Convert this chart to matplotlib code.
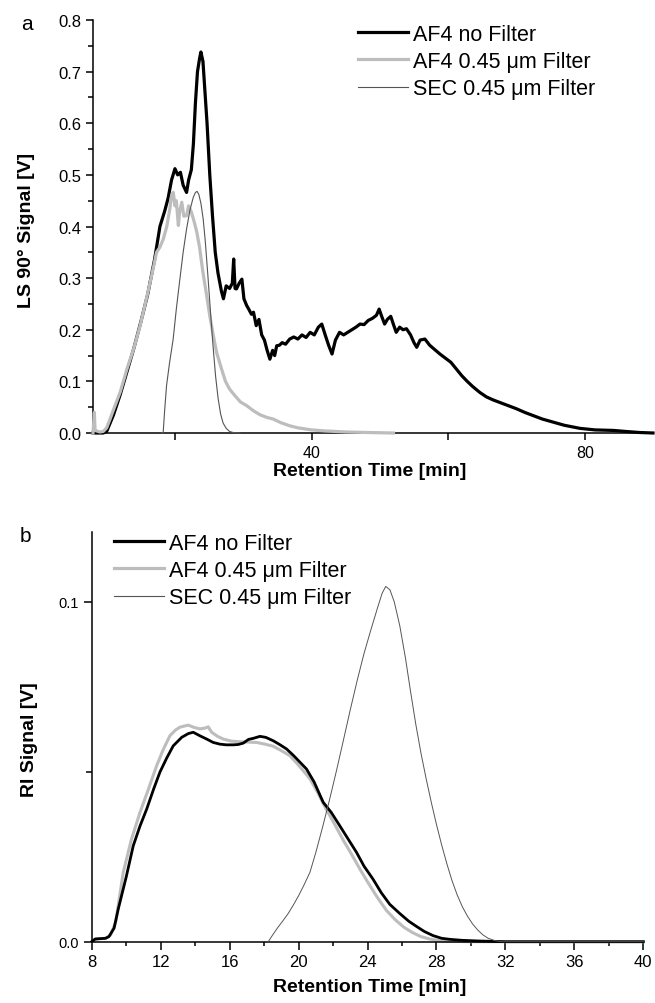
import numpy as np
import matplotlib
matplotlib.use("Agg")
import matplotlib.pyplot as plt
from matplotlib.lines import Line2D
from matplotlib.ticker import MultipleLocator, FixedLocator

plt.rcParams['font.family'] = ['Liberation Sans', 'DejaVu Sans']

# (a) LS 90° signal, retention time [min], signal [V]
ls_af4_nofilter = [
    (8, 0), (9.5, 0), (10.0, 0.003), (11, 0.035), (12, 0.075), (13, 0.12), (14, 0.165),
    (15, 0.215), (16, 0.268), (17, 0.335), (17.8, 0.40), (18.5, 0.43), (19.0, 0.455),
    (19.5, 0.49), (20.0, 0.512), (20.4, 0.50), (20.8, 0.505), (21.2, 0.48), (21.7, 0.466),
    (22.0, 0.49), (22.4, 0.51), (22.7, 0.56), (23.0, 0.64), (23.3, 0.70), (23.6, 0.725),
    (23.8, 0.738), (24.1, 0.72), (24.4, 0.66), (24.7, 0.60), (25.1, 0.50), (25.5, 0.42),
    (25.9, 0.35), (26.3, 0.31), (26.8, 0.275), (27.1, 0.26), (27.5, 0.285), (28.0, 0.28),
    (28.4, 0.29), (28.6, 0.337), (28.8, 0.28), (29.0, 0.279), (29.4, 0.29), (29.8, 0.298),
    (30.1, 0.26), (30.5, 0.247), (30.8, 0.24), (31.2, 0.23), (31.5, 0.234), (31.9, 0.208),
    (32.3, 0.22), (32.7, 0.19), (33.1, 0.18), (33.5, 0.16), (33.9, 0.143), (34.3, 0.16),
    (34.6, 0.15), (34.9, 0.169), (35.3, 0.17), (35.7, 0.175), (36.2, 0.172), (36.8, 0.182),
    (37.4, 0.186), (38.0, 0.182), (38.6, 0.19), (39.2, 0.185), (39.8, 0.195), (40.4, 0.19),
    (41.0, 0.205), (41.5, 0.211), (42.0, 0.19), (42.5, 0.17), (43.0, 0.153), (43.5, 0.18),
    (44.1, 0.195), (44.7, 0.19), (45.3, 0.195), (45.9, 0.2), (46.5, 0.205), (47.1, 0.211),
    (47.7, 0.21), (48.3, 0.218), (48.9, 0.222), (49.5, 0.228), (49.9, 0.24), (50.3, 0.225),
    (50.7, 0.211), (51.1, 0.22), (51.6, 0.226), (52.0, 0.21), (52.4, 0.195), (52.9, 0.205),
    (53.4, 0.2), (53.9, 0.202), (54.5, 0.19), (55.0, 0.175), (55.4, 0.166), (55.9, 0.18),
    (56.6, 0.182), (57.3, 0.17), (58.0, 0.162), (58.8, 0.153), (59.6, 0.145), (60.4, 0.137),
    (61.2, 0.124), (62.0, 0.111), (62.8, 0.1), (63.6, 0.09), (64.6, 0.079), (65.6, 0.07),
    (66.6, 0.064), (67.6, 0.059), (68.8, 0.053), (70.0, 0.047), (71.2, 0.04), (72.4, 0.034),
    (73.8, 0.027), (75.4, 0.021), (77.0, 0.015), (79.3, 0.009), (81.5, 0.006), (84.2, 0.005),
    (86.0, 0.003), (88.0, 0.001), (90, 0),
]
ls_af4_filter = [
    (8.0, 0.0), (8.2, 0.04), (8.3, 0.005), (9.0, 0.002), (9.5, 0.003), (10.0, 0.01),
    (10.5, 0.027), (11.0, 0.045), (12.0, 0.08), (12.4, 0.098), (13.0, 0.125), (14.0, 0.165),
    (14.9, 0.208), (16.0, 0.27), (17.0, 0.33), (17.3, 0.35), (17.8, 0.36), (18.3, 0.376),
    (18.8, 0.40), (19.25, 0.434), (19.5, 0.46), (19.75, 0.466), (20.0, 0.44), (20.2, 0.45),
    (20.5, 0.402), (20.7, 0.43), (21.0, 0.447), (21.3, 0.42), (21.7, 0.421), (22.0, 0.44),
    (22.4, 0.428), (22.8, 0.41), (23.2, 0.389), (23.6, 0.36), (24.1, 0.311), (24.6, 0.27),
    (25.1, 0.227), (25.6, 0.19), (26.1, 0.156), (26.8, 0.125), (27.4, 0.1), (28.0, 0.085),
    (28.8, 0.072), (29.6, 0.06), (30.5, 0.053), (31.5, 0.043), (32.5, 0.035), (33.5, 0.03),
    (34.4, 0.027), (35.5, 0.02), (36.8, 0.014), (38.0, 0.01), (40.0, 0.006), (42.0, 0.004),
    (45.0, 0.002), (48.0, 0.001), (52.0, 0),
]
ls_sec_filter = [
    (18.0, 0), (18.27, 0.0), (18.5, 0.045), (18.77, 0.092), (19.2, 0.135), (19.74, 0.182),
    (20.2, 0.24), (20.72, 0.298), (21.2, 0.35), (21.7, 0.395), (22.2, 0.432), (22.67, 0.456),
    (23.0, 0.466), (23.25, 0.468), (23.5, 0.462), (23.8, 0.445), (24.13, 0.415), (24.45, 0.37),
    (24.86, 0.298), (25.2, 0.235), (25.6, 0.165), (25.95, 0.11), (26.33, 0.066), (26.7, 0.036),
    (27.06, 0.019), (27.5, 0.009), (28.0, 0.003), (28.5, 0.001), (29.5, 0),
]

# (b) RI signal
ri_af4_nofilter = [
    (8.0, 0.0), (8.2, 0.0008), (8.8, 0.001), (9.0, 0.0015), (9.3, 0.004), (9.54, 0.0096),
    (10.0, 0.019), (10.41, 0.0282), (10.8, 0.034), (11.19, 0.039), (11.6, 0.045),
    (11.96, 0.0499), (12.35, 0.054), (12.73, 0.0576), (13.22, 0.0601), (13.6, 0.0612),
    (13.89, 0.0616), (14.3, 0.0605), (14.67, 0.0596), (15.05, 0.0586), (15.44, 0.0581),
    (15.8, 0.0579), (16.21, 0.0579), (16.5, 0.058), (16.79, 0.0584), (17.1, 0.0595),
    (17.37, 0.0598), (17.76, 0.0604), (18.1, 0.0601), (18.53, 0.0591), (18.9, 0.058),
    (19.3, 0.0567), (19.7, 0.0548), (20.08, 0.0528), (20.46, 0.0508), (20.9, 0.047),
    (21.43, 0.041), (21.9, 0.038), (22.39, 0.0341), (22.9, 0.030), (23.36, 0.0263),
    (23.8, 0.0222), (24.32, 0.0184), (24.8, 0.0144), (25.29, 0.011), (25.87, 0.0083),
    (26.4, 0.006), (26.84, 0.0045), (27.3, 0.003), (27.8, 0.0018), (28.3, 0.001),
    (28.77, 0.0007), (29.5, 0.0004), (30.5, 0.0002), (32, 0.0), (40, 0.0),
]
ri_af4_filter = [
    (8.0, 0.0), (8.3, 0.0008), (8.8, 0.001), (9.1, 0.002), (9.4, 0.006), (9.83, 0.0204),
    (10.3, 0.030), (10.8, 0.038), (11.3, 0.045), (11.77, 0.0518), (12.15, 0.0565),
    (12.54, 0.0606), (12.85, 0.0622), (13.12, 0.0631), (13.6, 0.0637), (13.95, 0.063),
    (14.28, 0.0626), (14.55, 0.0628), (14.76, 0.0632), (14.96, 0.0616), (15.3, 0.0604),
    (15.63, 0.0596), (16.1, 0.059), (16.6, 0.0588), (17.1, 0.0587), (17.57, 0.0586),
    (18.05, 0.0581), (18.53, 0.0575), (19.0, 0.0562), (19.5, 0.0547), (19.9, 0.0525),
    (20.27, 0.0503), (20.66, 0.0479), (21.1, 0.044), (21.6, 0.039), (22.1, 0.0345),
    (22.6, 0.0298), (23.1, 0.0255), (23.6, 0.021), (24.1, 0.0168), (24.6, 0.0128),
    (25.1, 0.0092), (25.6, 0.0065), (26.1, 0.0043), (26.6, 0.0027), (27.1, 0.0015),
    (27.6, 0.0008), (28.2, 0.0003), (29, 0.0001), (30, 0), (40, 0),
]
ri_sec_filter = [
    (18.24, 0), (18.5, 0.002), (18.8, 0.0042), (19.1, 0.0062), (19.4, 0.0083), (19.7, 0.0108),
    (20.0, 0.0135), (20.3, 0.0165), (20.66, 0.0204), (21.0, 0.0262), (21.4, 0.0338),
    (21.8, 0.0418), (22.2, 0.0503), (22.6, 0.0592), (23.0, 0.0682), (23.4, 0.0768),
    (23.8, 0.0848), (24.2, 0.0918), (24.6, 0.0985), (24.85, 0.1025), (25.06, 0.1045),
    (25.3, 0.1035), (25.55, 0.100), (25.87, 0.093), (26.2, 0.0835), (26.5, 0.0735),
    (26.8, 0.064), (27.1, 0.0555), (27.4, 0.048), (27.7, 0.041), (28.0, 0.0345),
    (28.3, 0.0285), (28.6, 0.023), (28.9, 0.018), (29.2, 0.0138), (29.5, 0.0103),
    (29.8, 0.0075), (30.1, 0.0052), (30.4, 0.0034), (30.7, 0.002), (31.0, 0.001),
    (31.4, 0.0003), (31.8, 0.0), (40, 0.0),
]

labels = ["AF4 no Filter", "AF4 0.45 \u03bcm Filter", "SEC 0.45 \u03bcm Filter"]
BLACK = "black"
GREY = "#bdbdbd"
THIN = "#555555"


def xy(points):
    arr = np.array(points)
    return arr[:, 0], arr[:, 1]


def style_axes(ax):
    for side in ["top", "right"]:
        ax.spines[side].set_visible(False)
    for side in ["left", "bottom"]:
        ax.spines[side].set_linewidth(1.1)


fig = plt.figure(figsize=(6.55, 10.04), dpi=100)

# ---- panel a ----
ax1 = fig.add_axes([93 / 655, 1 - 434 / 1004, 560 / 655, 413 / 1004])
ax1.plot(*xy(ls_af4_nofilter), color=BLACK, lw=2.3, zorder=2)
ax1.plot(*xy(ls_af4_filter), color=GREY, lw=2.3, zorder=3)
ax1.plot(*xy(ls_sec_filter), color=THIN, lw=0.8, zorder=4)
ax1.set_xlim(8, 90)
ax1.set_ylim(0, 0.8)
ax1.xaxis.set_major_locator(FixedLocator([40, 80]))
ax1.xaxis.set_minor_locator(FixedLocator([20, 60]))
ax1.yaxis.set_major_locator(MultipleLocator(0.1))
ax1.yaxis.set_minor_locator(MultipleLocator(0.05))
ax1.set_yticklabels([f"{v:.1f}" for v in ax1.get_yticks()])
ax1.tick_params(axis="x", which="major", direction="out", length=5, width=1.1, labelsize=11.5)
ax1.tick_params(axis="y", which="major", direction="out", length=5, width=1.1, labelsize=12)
ax1.tick_params(axis="y", which="minor", direction="out", length=3.5, width=1.1)
ax1.tick_params(axis="x", which="minor", direction="out", length=5, width=1.1)
style_axes(ax1)

# ---- panel b ----
ax2 = fig.add_axes([91.7 / 655, 1 - 942.7 / 1004, 551.6 / 655, 409.7 / 1004])
ax2.plot(*xy(ri_af4_filter), color=GREY, lw=2.2, zorder=2)
ax2.plot(*xy(ri_af4_nofilter), color=BLACK, lw=2.0, zorder=3)
ax2.plot(*xy(ri_sec_filter), color=THIN, lw=0.7, zorder=4)
ax2.set_xlim(8, 40)
ax2.set_ylim(0, 0.1205)
ax2.xaxis.set_major_locator(MultipleLocator(4))
ax2.xaxis.set_minor_locator(MultipleLocator(2))
ax2.yaxis.set_major_locator(FixedLocator([0.0, 0.1]))
ax2.yaxis.set_minor_locator(FixedLocator([0.05]))
ax2.set_yticklabels(["0.0", "0.1"])
ax2.tick_params(axis="x", which="major", direction="out", length=5.5, width=1.1, labelsize=12)
ax2.tick_params(axis="x", which="minor", direction="out", length=3, width=1.1)
ax2.tick_params(axis="y", which="major", direction="out", length=6, width=1.1, labelsize=10.5)
ax2.tick_params(axis="y", which="minor", direction="out", length=4, width=1.1)
style_axes(ax2)

for ax in (ax1, ax2):
    for ln in ax.get_lines():
        ln.set_clip_on(False)
        ln.set_solid_joinstyle("round")

# ---- legends ----
handles = [
    Line2D([], [], color=BLACK, lw=2.3),
    Line2D([], [], color=GREY, lw=2.3),
    Line2D([], [], color=THIN, lw=0.8),
]
for anchor in [(358 / 655, 1 - 25 / 1004), (114 / 655, 1 - 534 / 1004)]:
    fig.legend(handles, labels, loc="upper left", bbox_to_anchor=anchor,
               bbox_transform=fig.transFigure, frameon=False, fontsize=15.5,
               handlelength=2.3, handletextpad=0.25, labelspacing=0.28,
               borderpad=0, borderaxespad=0)

# ---- texts ----
fig.text(27 / 655, 1 - 25 / 1004, "a", fontsize=15, ha="center", va="center")
fig.text(25 / 655, 1 - 537 / 1004, "b", fontsize=15, ha="center", va="center")
fig.text(370 / 655, 1 - 471 / 1004, "Retention Time [min]", fontsize=14, fontweight="bold",
         ha="center", va="center")
fig.text(370 / 655, 1 - 988 / 1004, "Retention Time [min]", fontsize=14, fontweight="bold",
         ha="center", va="center")
fig.text(27 / 655, 1 - 230 / 1004, "LS 90\u00b0 Signal [V]", fontsize=14, fontweight="bold",
         rotation=90, ha="center", va="center")
fig.text(29 / 655, 1 - 740 / 1004, "RI Signal [V]", fontsize=14, fontweight="bold",
         rotation=90, ha="center", va="center")

fig.savefig("out.png", dpi=100)
